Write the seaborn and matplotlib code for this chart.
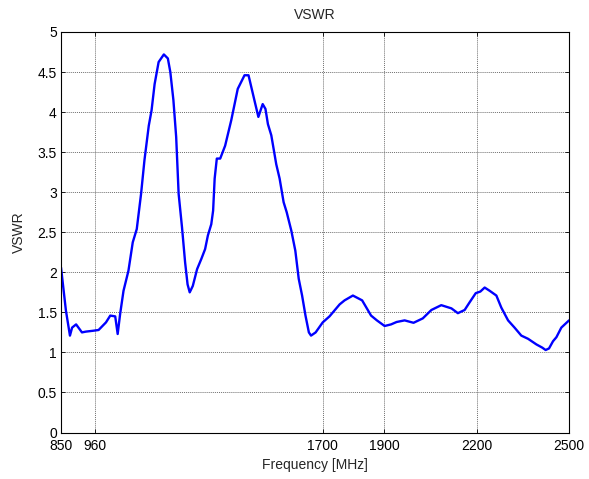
import matplotlib
matplotlib.use("Agg")
import matplotlib.pyplot as plt
import seaborn as sns
import pandas as pd

freq_mhz = [850, 866, 879, 886, 899, 918, 931, 953, 972, 996, 1010, 1026, 1034, 1042,
            1053, 1069, 1083, 1096, 1110, 1121, 1135, 1144, 1154, 1167, 1184, 1197,
            1205, 1215, 1224, 1232, 1243, 1253, 1261, 1268, 1278, 1292, 1306, 1318,
            1327, 1338, 1344, 1349, 1356, 1367, 1383, 1403, 1424, 1446, 1459, 1478,
            1491, 1505, 1514, 1522, 1533, 1549, 1560, 1573, 1583, 1598, 1611, 1622,
            1633, 1644, 1655, 1662, 1677, 1700, 1722, 1755, 1771, 1798, 1828, 1857,
            1876, 1901, 1922, 1940, 1966, 1995, 2025, 2053, 2085, 2118, 2139, 2161,
            2177, 2197, 2212, 2226, 2242, 2264, 2280, 2302, 2323, 2345, 2367, 2394,
            2413, 2424, 2435, 2448, 2459, 2475, 2500]
vswr = [2.06, 1.52, 1.21, 1.31, 1.35, 1.25, 1.26, 1.27, 1.28, 1.375, 1.46, 1.45, 1.23, 1.48,
        1.77, 2.02, 2.375, 2.54, 2.98, 3.40, 3.83, 4.02, 4.35, 4.625, 4.72, 4.67,
        4.50, 4.15, 3.69, 2.98, 2.56, 2.125, 1.85, 1.75, 1.83, 2.04, 2.17, 2.29,
        2.46, 2.60, 2.77, 3.17, 3.42, 3.42, 3.58, 3.90, 4.29, 4.46, 4.46, 4.15,
        3.94, 4.10, 4.04, 3.85, 3.71, 3.35, 3.17, 2.875, 2.75, 2.52, 2.27, 1.92,
        1.71, 1.46, 1.25, 1.21, 1.25, 1.375, 1.45, 1.60, 1.65, 1.71, 1.65, 1.46,
        1.40, 1.33, 1.35, 1.38, 1.40, 1.37, 1.425, 1.53, 1.59, 1.55, 1.49, 1.53,
        1.625, 1.74, 1.76, 1.81, 1.77, 1.71, 1.56, 1.40, 1.31, 1.21, 1.17, 1.10,
        1.06, 1.03, 1.05, 1.14, 1.19, 1.31, 1.40]

x_ticks = [850, 960, 1700, 1900, 2200, 2500]
y_ticks = [0, 0.5, 1, 1.5, 2, 2.5, 3, 3.5, 4, 4.5, 5]
y_tick_labels = ["0", "0.5", "1", "1.5", "2", "2.5", "3", "3.5", "4", "4.5", "5"]

sns.set_style("white")
plt.rcParams['font.family'] = ['Liberation Sans', 'DejaVu Sans']

df = pd.DataFrame({"Frequency": freq_mhz, "VSWR": vswr})

fig = plt.figure(figsize=(5.89, 4.79), dpi=100)
ax = fig.add_axes([0.1036, 0.097, 0.8625, 0.8362])

sns.lineplot(data=df, x="Frequency", y="VSWR", ax=ax, color=(0, 0, 1), linewidth=1.7,
             estimator=None, sort=False)

ax.set_xlim(850, 2500)
ax.set_ylim(0, 5)
ax.set_xticks(x_ticks)
ax.set_xticklabels([str(t) for t in x_ticks])
ax.set_yticks(y_ticks)
ax.set_yticklabels(y_tick_labels)
ax.grid(True, color="#707070", linestyle=(0, (1, 1)), linewidth=0.7)
ax.tick_params(direction="in", length=3, width=0.6, labelsize=10, colors="black",
               top=True, right=True, bottom=True, left=True)
ax.tick_params(axis="x", pad=4.5)
ax.tick_params(axis="y", pad=3)
for s in ax.spines.values():
    s.set_color("black")
    s.set_linewidth(0.8)
    s.set_visible(True)

ax.set_xlabel("Frequency [MHz]", fontsize=10, labelpad=4)
ax.set_ylabel("VSWR", fontsize=10, labelpad=8)
ax.set_title("VSWR", fontsize=10, pad=9.5)

fig.savefig("out.png", dpi=100, facecolor="white")
